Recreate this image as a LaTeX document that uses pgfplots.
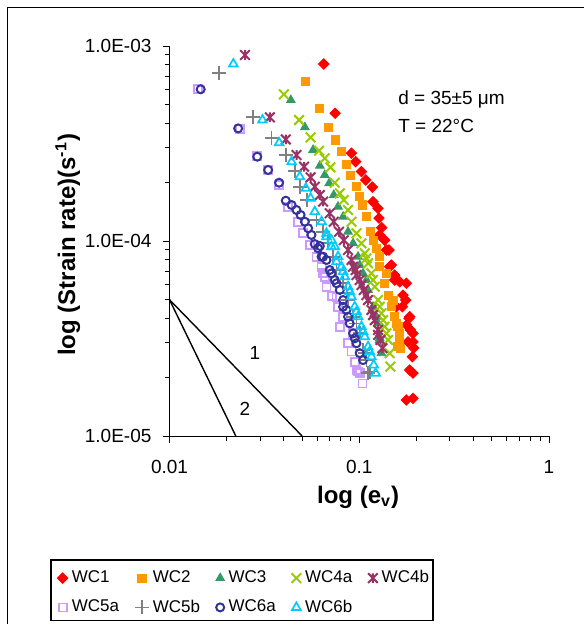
\documentclass[border=0pt]{standalone}
\usepackage{fontspec}
\setmainfont{Liberation Sans}
\usepackage{pgfplots}
\pgfplotsset{compat=1.18}
\definecolor{cWCa}{HTML}{FF0000}
\definecolor{cWCb}{HTML}{FF9900}
\definecolor{cWCc}{HTML}{339966}
\definecolor{cWCd}{HTML}{99CC00}
\definecolor{cWCe}{HTML}{993366}
\definecolor{cWCf}{HTML}{CC99FF}
\definecolor{cWCg}{HTML}{808080}
\definecolor{cWCh}{HTML}{333399}
\definecolor{cWCi}{HTML}{00CCFF}
\pgfdeclareplotmark{xstar}{%
  \pgfpathmoveto{\pgfqpoint{-.70710678\pgfplotmarksize}{-.70710678\pgfplotmarksize}}%
  \pgfpathlineto{\pgfqpoint{.70710678\pgfplotmarksize}{.70710678\pgfplotmarksize}}%
  \pgfpathmoveto{\pgfqpoint{-.70710678\pgfplotmarksize}{.70710678\pgfplotmarksize}}%
  \pgfpathlineto{\pgfqpoint{.70710678\pgfplotmarksize}{-.70710678\pgfplotmarksize}}%
  \pgfpathmoveto{\pgfqpoint{0pt}{-.70710678\pgfplotmarksize}}%
  \pgfpathlineto{\pgfqpoint{0pt}{.70710678\pgfplotmarksize}}%
  \pgfusepathqstroke
}
\pgfplotsset{mymarks/.style={only marks,
  legend image code/.code={\draw[mark repeat=2,mark phase=2,##1] plot coordinates {(0pt,0pt)(3.5pt,0pt)(7pt,0pt)};}}}
\begin{document}
\begin{tikzpicture}[x=1pt,y=1pt]
\useasboundingbox (0,0) rectangle (292,312);
\draw[line width=0.65pt] (3.65,0) -- (3.65,308.35) -- (292,308.35);
\fill[white] (25.5,1.5) rectangle (216.5,32);
\begin{axis}[
  at={(84.75pt,94pt)}, anchor=south west,
  scale only axis, width=189.75pt, height=195pt,
  xmode=log, ymode=log,
  xmin=0.01, xmax=1, ymin=1e-5, ymax=1e-3,
  axis lines=left,
  axis line style={-, line width=0.5pt, black},
  tick align=outside,
  major tick length=3.5pt, minor tick length=2.5pt,
  every tick/.style={black, line width=0.5pt},
  xtick={0.01,0.1,1}, xticklabels={0.01,0.1,1},
  ytick={1e-5,1e-4,1e-3}, yticklabels={1.0E-05,1.0E-04,1.0E-03},
  minor xtick={0.02,0.03,0.04,0.05,0.06,0.07,0.08,0.09,0.2,0.3,0.4,0.5,0.6,0.7,0.8,0.9},
  minor ytick={2e-5,3e-5,4e-5,5e-5,6e-5,7e-5,8e-5,9e-5,2e-4,3e-4,4e-4,5e-4,6e-4,7e-4,8e-4,9e-4},
  tick label style={font=\fontsize{9.5}{11}\selectfont},
  xticklabel style={yshift=-5pt},
  yticklabel style={xshift=-2pt},
  xlabel={\bfseries log (e\textsubscript{v})},
  ylabel={\bfseries log (Strain rate)(s\textsuperscript{-1})},
  label style={font=\fontsize{12}{14}\selectfont},
  xlabel style={at={(axis description cs:0.497,-0.156)}, anchor=center},
  ylabel style={at={(axis description cs:-0.268,0.49)}, anchor=center},
  legend columns=5,
  legend style={at={(axis description cs:-0.3070,-0.318)}, anchor=north west,
    draw=none, fill=none, inner xsep=2pt, inner ysep=3pt,
    font=\fontsize{8.5}{10}\selectfont, row sep=3pt,
    /tikz/every even column/.append style={column sep=3pt}},
  clip=false,
]
\addplot[mymarks, mark=square*, mark size=1.85pt, mark options={rotate=45, fill=cWCa, draw=cWCa}] coordinates {
(0.0650,8.09e-4) (0.0746,4.52e-4) (0.0910,2.82e-4) (0.0958,2.55e-4) (0.1027,2.27e-4) (0.1082,2.055e-4) (0.1173,1.89e-4) (0.1182,1.59e-4) (0.1256,1.47e-4) (0.1271,1.31e-4) (0.1313,1.17e-4) (0.1282,1.074e-4) (0.1362,1.01e-4) (0.1391,8.99e-5) (0.1435,8.99e-5) (0.1447,7.38e-5) (0.1477,7.53e-5) (0.1538,6.69e-5) (0.1538,6.31e-5) (0.1772,6.07e-5) (0.1634,6.18e-5) (0.1700,5.28e-5) (0.1757,4.98e-5) (0.1688,4.60e-5) (0.1570,4.60e-5) (0.1829,4.01e-5) (0.1845,4.09e-5) (0.1778,3.71e-5) (0.1860,3.50e-5) (0.1920,3.36e-5) (0.1920,3.04e-5) (0.1806,3.04e-5) (0.1936,2.83e-5) (0.1906,2.55e-5) (0.1845,2.18e-5) (0.1920,2.10e-5) (0.1772,1.53e-5) (0.1920,1.56e-5)
};
\addlegendentry{\makebox[26.5pt][l]{WC1}}
\addplot[mymarks, mark=square*, mark size=2.05pt, mark options={fill=cWCb, draw=cWCb}] coordinates {
(0.0521,6.56e-4) (0.0614,4.79e-4) (0.0691,3.83e-4) (0.0749,3.30e-4) (0.0809,2.89e-4) (0.0856,2.48e-4) (0.0899,2.18e-4) (0.0967,1.90e-4) (0.0998,1.69e-4) (0.1039,1.53e-4) (0.1091,1.332e-4) (0.1145,1.116e-4) (0.1182,1.01e-4) (0.1232,9.18e-5) (0.1282,8.31e-5) (0.1282,7.38e-5) (0.1391,6.83e-5) (0.1362,6.07e-5) (0.1418,5.28e-5) (0.1506,4.98e-5) (0.1477,4.60e-5) (0.1538,4.09e-5) (0.1570,3.78e-5) (0.1600,3.64e-5) (0.1620,3.36e-5) (0.1634,3.11e-5) (0.1600,2.87e-5) (0.1648,2.82e-5)
};
\addlegendentry{\makebox[26.5pt][l]{WC2}}
\addplot[mymarks, mark=triangle*, mark size=2.5pt, mark options={fill=cWCc, draw=cWCc}] coordinates {
(0.0436,5.28e-4) (0.0517,3.83e-4) (0.0571,2.93e-4) (0.0620,2.433e-4) (0.0658,2.18e-4) (0.0694,1.977e-4) (0.0734,1.722e-4) (0.0773,1.50e-4) (0.0822,1.332e-4) (0.0873,1.116e-4) (0.0928,9.73e-5) (0.0986,8.31e-5) (0.1006,7.53e-5) (0.1047,6.83e-5) (0.1091,6.31e-5) (0.1113,5.61e-5) (0.1182,4.60e-5) (0.1232,4.09e-5) (0.1256,3.78e-5) (0.1282,3.18e-5) (0.1282,3.11e-5) (0.1309,2.66e-5)
};
\addlegendentry{\makebox[26.5pt][l]{WC3}}
\addplot[mymarks, mark=x, mark size=3.4pt, mark options={draw=cWCd, line width=1pt}] coordinates {
(0.0401,5.65e-4) (0.0482,4.174e-4) (0.0554,3.40e-4) (0.0614,2.905e-4) (0.0658,2.656e-4) (0.0705,2.387e-4) (0.0743,1.991e-4) (0.0790,1.756e-4) (0.0829,1.623e-4) (0.0873,1.442e-4) (0.0910,1.256e-4) (0.0967,1.095e-4) (0.1027,9.73e-5) (0.1069,8.65e-5) (0.1091,8.15e-5) (0.1113,7.69e-5) (0.1159,6.83e-5) (0.1182,6.31e-5) (0.1207,5.83e-5) (0.1256,4.98e-5) (0.1282,4.60e-5) (0.1309,4.26e-5) (0.1335,3.93e-5) (0.1362,3.64e-5) (0.1391,3.36e-5) (0.1418,3.11e-5) (0.1447,2.66e-5) (0.1459,2.27e-5)
};
\addlegendentry{\makebox[26.5pt][l]{WC4a}}
\addplot[mymarks, mark=xstar, mark size=3.4pt, mark options={draw=cWCe, line width=1pt}] coordinates {
(0.0250,8.99e-4) (0.0338,4.31e-4) (0.0410,3.32e-4) (0.0467,2.76e-4) (0.0512,2.404e-4) (0.0554,2.122e-4) (0.0583,1.90e-4) (0.0620,1.722e-4) (0.0645,1.591e-4) (0.0699,1.387e-4) (0.0734,1.256e-4) (0.0783,1.116e-4) (0.0829,1.01e-4) (0.0873,8.99e-5) (0.0910,7.99e-5) (0.0928,7.38e-5) (0.0958,7.10e-5) (0.0967,6.69e-5) (0.1006,6.31e-5) (0.1027,5.95e-5) (0.1056,5.61e-5) (0.1091,5.28e-5) (0.1113,4.98e-5) (0.1159,4.43e-5) (0.1182,4.17e-5) (0.1207,3.93e-5) (0.1256,3.50e-5) (0.1256,3.30e-5) (0.1293,3.11e-5) (0.1325,2.82e-5)
};
\addlegendentry{\makebox[26.5pt][l]{WC4b}}
\addplot[mymarks, mark=square, mark size=2.0pt, mark options={draw=cWCf, line width=0.9pt}] coordinates {
(0.01418,6.00e-4) (0.0235,3.74e-4) (0.0288,2.73e-4) (0.0331,2.313e-4) (0.0377,1.938e-4) (0.0422,1.50e-4) (0.0476,1.256e-4) (0.0506,1.095e-4) (0.0549,9.54e-5) (0.0595,8.31e-5) (0.0633,7.38e-5) (0.0645,6.83e-5) (0.0658,6.56e-5) (0.0672,5.83e-5) (0.0717,5.22e-5) (0.0759,5.18e-5) (0.0773,4.60e-5) (0.0822,4.09e-5) (0.0790,3.64e-5) (0.0928,3.36e-5) (0.0873,2.99e-5) (0.0910,2.71e-5) (0.0947,2.40e-5) (0.0967,2.18e-5) (0.0986,2.14e-5) (0.1006,2.10e-5) (0.1039,1.86e-5)
};
\addlegendentry{\makebox[26.5pt][l]{WC5a}}
\addplot[mymarks, mark=+, mark size=3.5pt, mark options={draw=cWCg, line width=0.9pt}] coordinates {
(0.0183,7.24e-4) (0.0276,4.31e-4) (0.0345,3.36e-4) (0.0410,2.76e-4) (0.0458,2.294e-4) (0.0486,1.90e-4) (0.0531,1.623e-4) (0.0595,1.282e-4) (0.0645,1.116e-4) (0.0685,9.73e-5) (0.0728,8.31e-5) (0.0759,7.10e-5) (0.0822,6.07e-5) (0.0856,5.39e-5) (0.0873,4.98e-5) (0.0928,4.09e-5) (0.0967,3.78e-5) (0.1006,3.36e-5) (0.1047,2.76e-5) (0.1069,2.66e-5) (0.1091,2.45e-5) (0.1113,2.10e-5) (0.1136,2.14e-5)
};
\addlegendentry{\makebox[26.5pt][l]{WC5b}}
\addplot[mymarks, mark=o, mark size=2.0pt, mark options={draw=cWCh, line width=1pt}] coordinates {
(0.0146,6.00e-4) (0.0230,3.78e-4) (0.0290,2.706e-4) (0.0331,2.313e-4) (0.0378,1.991e-4) (0.0410,1.61e-4) (0.0440,1.53e-4) (0.0467,1.442e-4) (0.0491,1.36e-4) (0.0517,1.256e-4) (0.0538,1.162e-4) (0.0560,1.074e-4) (0.0583,9.65e-5) (0.0607,9.18e-5) (0.0620,9.43e-5) (0.0645,8.31e-5) (0.0633,8.31e-5) (0.0672,7.99e-5) (0.0699,7.10e-5) (0.0714,6.83e-5) (0.0743,6.31e-5) (0.0759,6.07e-5) (0.0790,5.61e-5) (0.0822,4.98e-5) (0.0822,4.60e-5) (0.0856,4.43e-5) (0.0873,4.09e-5) (0.0891,3.78e-5) (0.0928,3.36e-5) (0.0947,3.17e-5) (0.0967,2.99e-5) (0.1006,2.66e-5) (0.1047,2.45e-5)
};
\addlegendentry{\makebox[26.5pt][l]{WC6a}}
\addplot[mymarks, mark=triangle, mark size=2.5pt, mark options={draw=cWCi, line width=0.85pt}] coordinates {
(0.0217,8.09e-4) (0.0309,4.17e-4) (0.0378,3.19e-4) (0.0440,2.55e-4) (0.0486,2.136e-4) (0.0523,1.864e-4) (0.0554,1.656e-4) (0.0583,1.414e-4) (0.0633,1.256e-4) (0.0672,1.095e-4) (0.0672,1.052e-4) (0.0714,1.01e-4) (0.0714,9.35e-5) (0.0743,9.35e-5) (0.0773,8.31e-5) (0.0759,7.83e-5) (0.0806,7.38e-5) (0.0822,6.96e-5) (0.0839,6.56e-5) (0.0873,5.83e-5) (0.0891,5.50e-5) (0.0910,5.18e-5) (0.0947,4.60e-5) (0.0967,4.34e-5) (0.0986,4.09e-5) (0.1027,3.64e-5) (0.1047,3.43e-5) (0.1069,3.23e-5) (0.1113,2.87e-5) (0.1136,2.71e-5) (0.1159,2.55e-5) (0.1192,2.31e-5) (0.1221,2.10e-5)
};
\addlegendentry{\makebox[26.5pt][l]{WC6b}}
\addplot[black, line width=0.7pt, no markers, forget plot] coordinates {(0.01,5e-5) (0.05,1e-5)};
\addplot[black, line width=0.7pt, no markers, forget plot] coordinates {(0.01,5e-5) (0.02236,1e-5)};
\node[font=\fontsize{9.5}{11}\selectfont] at (rel axis cs:0.2253,0.212) {1};
\node[font=\fontsize{9.5}{11}\selectfont] at (rel axis cs:0.199,0.0685) {2};
\node[font=\fontsize{9.5}{11}\selectfont, anchor=base west, inner sep=0pt] at (rel axis cs:0.602,0.849) {d = 35±5 μm};
\node[font=\fontsize{9.5}{11}\selectfont, anchor=base west, inner sep=0pt] at (rel axis cs:0.602,0.777) {T = 22°C};
\end{axis}
\draw[line width=0.8pt] (25.5,1.8) rectangle (216.5,32);
\end{tikzpicture}
\end{document}
